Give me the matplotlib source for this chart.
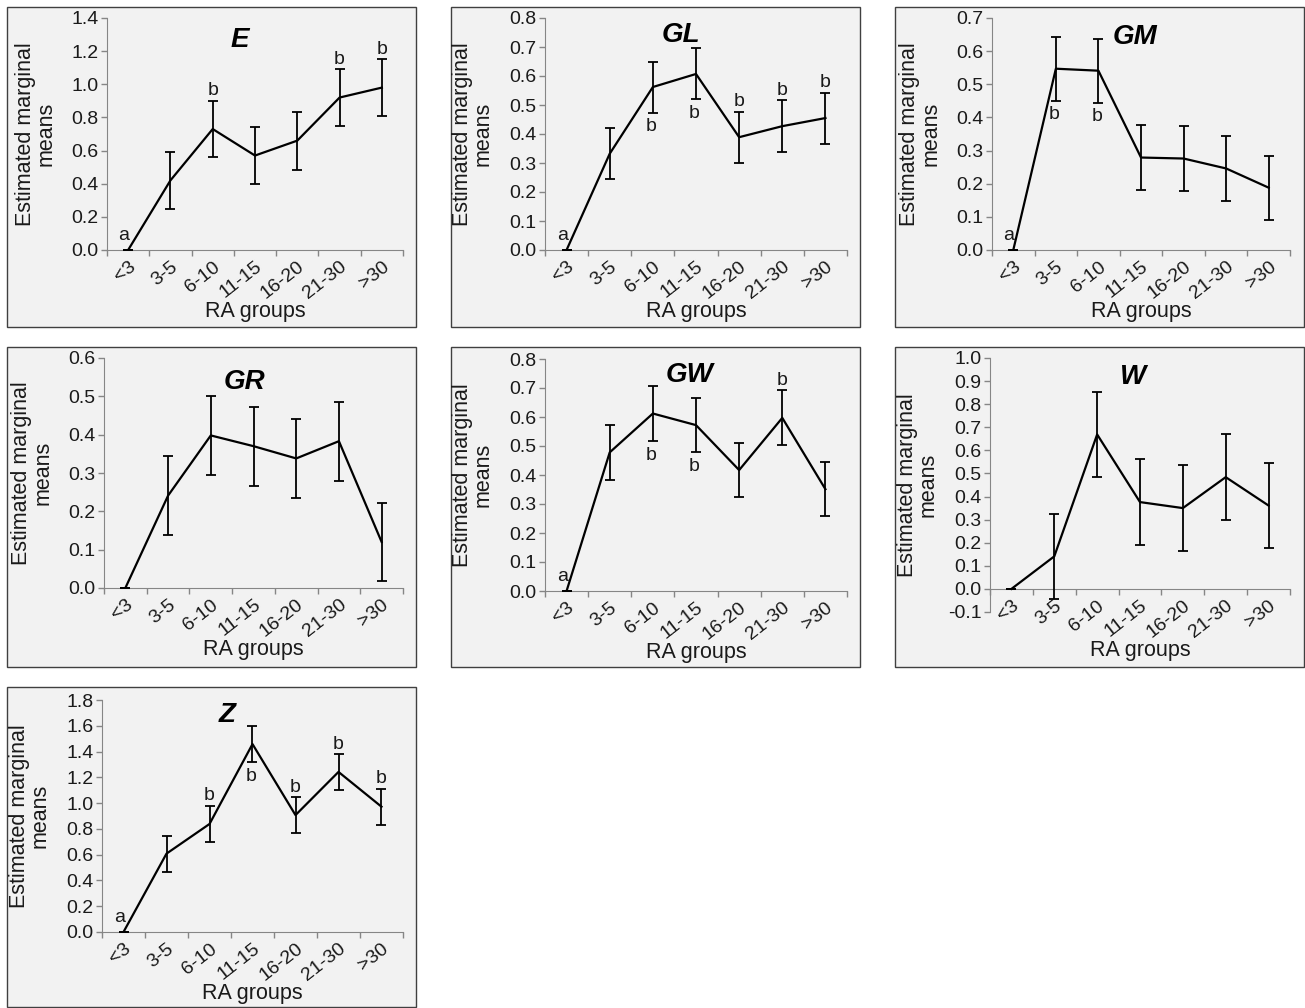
import numpy as np
import matplotlib
matplotlib.use('Agg')
import matplotlib.pyplot as plt
from matplotlib.patches import Rectangle
from matplotlib.ticker import MultipleLocator, FormatStrFormatter

plt.rcParams['font.family'] = ['Liberation Sans', 'DejaVu Sans']

groups = ['<3', '3-5', '6-10', '11-15', '16-20', '21-30', '>30']

# estimated marginal means and error (half width) per region
E_mean = [0.0, 0.42, 0.73, 0.57, 0.66, 0.92, 0.98]
E_err = [0.0, 0.17, 0.17, 0.17, 0.175, 0.17, 0.17]
E_let = ['a', '', 'b', '', '', 'b', 'b']
E_side = ['a', '', 'up', '', '', 'up', 'up']

GL_mean = [0.0, 0.332, 0.562, 0.607, 0.389, 0.427, 0.455]
GL_err = [0.0, 0.088, 0.088, 0.088, 0.088, 0.089, 0.088]
GL_let = ['a', '', 'b', 'b', 'b', 'b', 'b']
GL_side = ['a', '', 'down', 'down', 'up', 'up', 'up']

GM_mean = [0.0, 0.547, 0.541, 0.279, 0.276, 0.246, 0.188]
GM_err = [0.0, 0.097, 0.097, 0.098, 0.098, 0.098, 0.097]
GM_let = ['a', 'b', 'b', '', '', '', '']
GM_side = ['a', 'down', 'down', '', '', '', '']

GR_mean = [0.0, 0.241, 0.398, 0.37, 0.338, 0.383, 0.12]
GR_err = [0.0, 0.103, 0.103, 0.103, 0.103, 0.103, 0.103]
GR_let = [''] * 7
GR_side = [''] * 7

GW_mean = [0.0, 0.478, 0.612, 0.572, 0.417, 0.597, 0.351]
GW_err = [0.0, 0.094, 0.095, 0.094, 0.094, 0.095, 0.094]
GW_let = ['a', '', 'b', 'b', '', 'b', '']
GW_side = ['a', '', 'down', 'down', '', 'up', '']

W_mean = [0.0, 0.141, 0.669, 0.376, 0.35, 0.484, 0.361]
W_err = [0.0, 0.185, 0.185, 0.185, 0.185, 0.185, 0.185]
W_let = [''] * 7
W_side = [''] * 7

Z_mean = [0.0, 0.608, 0.838, 1.458, 0.907, 1.242, 0.972]
Z_err = [0.0, 0.139, 0.141, 0.139, 0.139, 0.139, 0.139]
Z_let = ['a', '', 'b', 'b', 'b', 'b', 'b']
Z_side = ['a', '', 'up', 'down', 'up', 'up', 'up']

panels = [
    ('E', E_mean, E_err, E_let, E_side, (0.0, 1.4, 0.2)),
    ('GL', GL_mean, GL_err, GL_let, GL_side, (0.0, 0.8, 0.1)),
    ('GM', GM_mean, GM_err, GM_let, GM_side, (0.0, 0.7, 0.1)),
    ('GR', GR_mean, GR_err, GR_let, GR_side, (0.0, 0.6, 0.1)),
    ('GW', GW_mean, GW_err, GW_let, GW_side, (0.0, 0.8, 0.1)),
    ('W', W_mean, W_err, W_let, W_side, (-0.1, 1.0, 0.1)),
    ('Z', Z_mean, Z_err, Z_let, Z_side, (0.0, 1.8, 0.2)),
]

W_PX, H_PX = 1305, 1008
fig = plt.figure(figsize=(W_PX / 100, H_PX / 100), dpi=100)

# panel frames (px): left, top
boxes = [(7, 7), (451, 7), (895, 7),
         (7, 347), (451, 347), (895, 347),
         (7, 687)]
# axes rectangles (px): left, right, top, bottom
axrects = [(107, 403, 18, 250), (545, 847, 18, 250), (992, 1290, 18, 250),
           (104, 403, 358, 588), (545, 847, 359, 591), (990, 1290, 358, 612),
           (102, 403, 700, 932)]
title_pos = [(0.45, 0.905), (0.45, 0.927), (0.48, 0.918), (0.47, 0.896),
             (0.48, 0.93), (0.477, 0.925), (0.415, 0.935)]

grey = '#868686'
txt = '#1a1a1a'
x = np.arange(len(groups))

for k, (name, mean, err, lets, sides, (y0, y1, step)) in enumerate(panels):
    bx, by = boxes[k]
    fig.patches.append(Rectangle((bx / W_PX, 1 - (by + 320) / H_PX), 409 / W_PX, 320 / H_PX,
                                 transform=fig.transFigure, facecolor='#f2f2f2',
                                 edgecolor='#404040', linewidth=1.0, zorder=-10))
    l, r, t, b = axrects[k]
    ax = fig.add_axes([l / W_PX, 1 - b / H_PX, (r - l) / W_PX, (b - t) / H_PX])
    ax.set_facecolor('none')
    ax.set_zorder(5)

    # spines first: moving a spine resets the ticks
    for s in ['top', 'right']:
        ax.spines[s].set_visible(False)
    ax.spines['left'].set_color(grey)
    ax.spines['bottom'].set_color(grey)
    ax.spines['bottom'].set_position(('data', 0))

    ax.plot(x, mean, color='black', lw=1.6, zorder=3)
    ax.errorbar(x, mean, yerr=err, fmt='none', ecolor='black', elinewidth=1.3,
                capsize=3.6, capthick=1.3, zorder=3)

    for i, (lt, sd) in enumerate(zip(lets, sides)):
        if not lt:
            continue
        if sd == 'a':
            ax.annotate(lt, (i, mean[i]), xytext=(-3, 4), textcoords='offset points',
                        ha='center', va='bottom', fontsize=14, color=txt)
        elif sd == 'up':
            ax.annotate(lt, (i, mean[i] + err[i]), xytext=(0, 1), textcoords='offset points',
                        ha='center', va='bottom', fontsize=14, color=txt)
        else:
            ax.annotate(lt, (i, mean[i] - err[i]), xytext=(-1, -4), textcoords='offset points',
                        ha='center', va='top', fontsize=14, color=txt)

    ax.set_xlim(-0.5, len(groups) - 0.5)
    ax.set_ylim(y0, y1)
    ax.yaxis.set_major_locator(MultipleLocator(step))
    ax.yaxis.set_major_formatter(FormatStrFormatter('%.1f'))

    ax.set_xticks(np.arange(-0.5, len(groups)))
    ax.set_xticklabels([])
    ax.set_xticks(x, minor=True)
    ax.set_xticklabels(groups, minor=True)
    ax.tick_params(axis='both', which='major', direction='out', length=4,
                   width=1, color=grey, labelsize=14, labelcolor=txt, pad=2)
    ax.tick_params(axis='x', which='minor', length=0, pad=6, labelsize=14,
                   labelcolor=txt, labelrotation=38)
    for lab in ax.get_xticklabels(minor=True):
        lab.set_ha('right')
        lab.set_va('top')
        lab.set_rotation_mode('anchor')

    ax.text(title_pos[k][0], title_pos[k][1], name, transform=ax.transAxes,
            fontsize=20, fontweight='bold', fontstyle='italic', ha='center', va='center')
    ax.text(-0.24, 0.5, 'Estimated marginal\nmeans', transform=ax.transAxes,
            rotation=90, ha='center', va='center', fontsize=15.5, linespacing=1.0,
            multialignment='center', color=txt)
    ax.annotate('RA groups', (0.5, 0), xycoords=('axes fraction', 'data'),
                xytext=(0, -44), textcoords='offset points', ha='center', va='center',
                fontsize=15.5, color=txt)

fig.savefig('out.png', dpi=100)
